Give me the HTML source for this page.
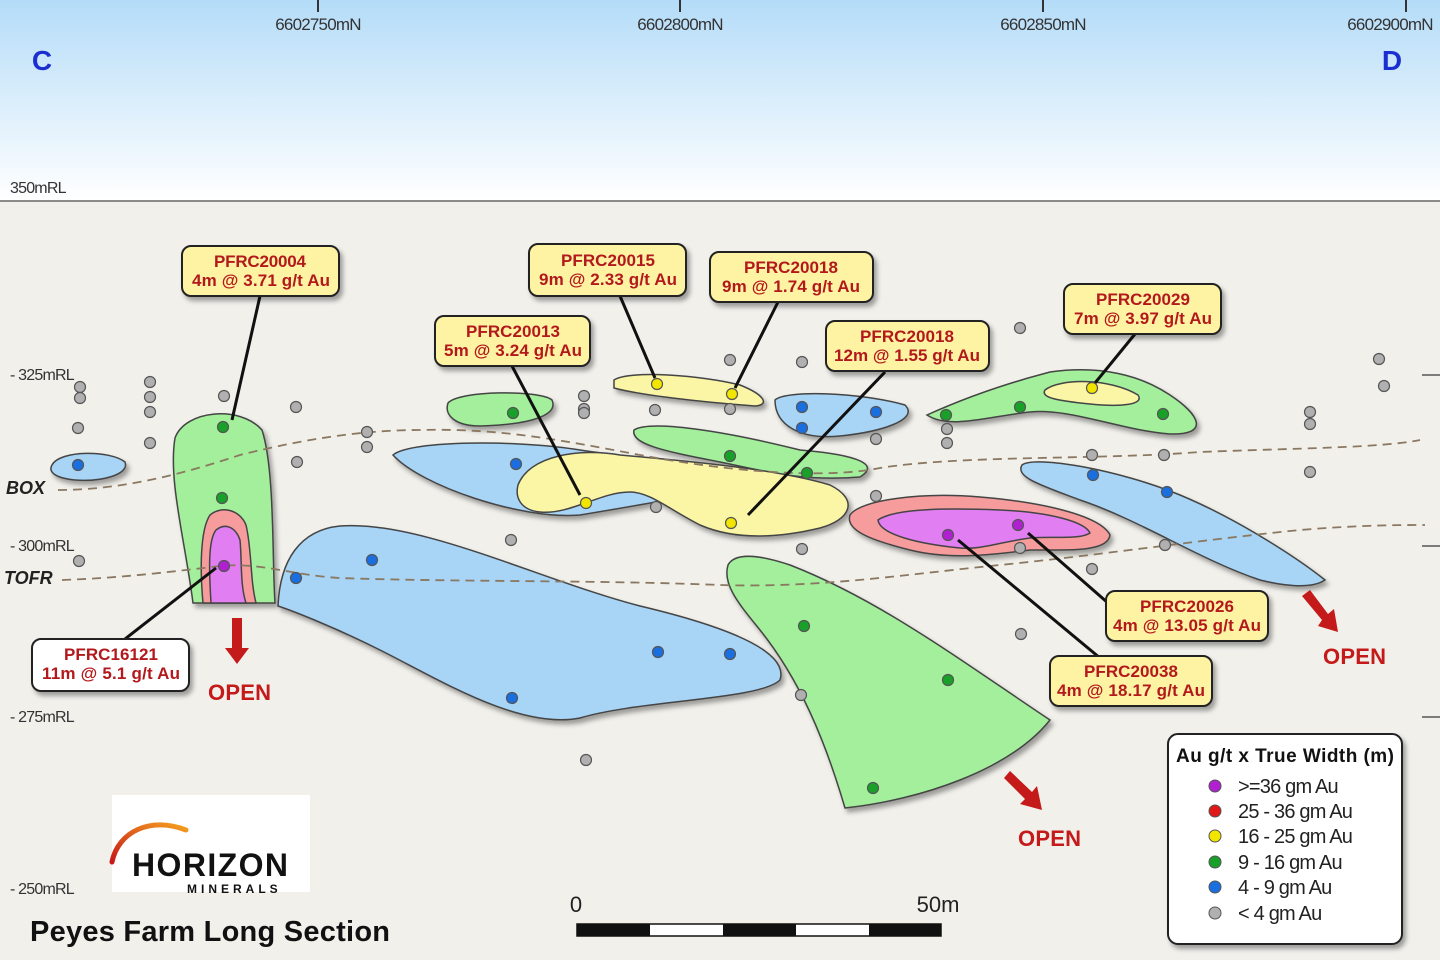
<!DOCTYPE html>
<html><head><meta charset="utf-8"><style>
html,body{margin:0;padding:0;width:1440px;height:960px;overflow:hidden;background:#f1f0eb}
svg{display:block}
text{font-family:"Liberation Sans",Arial,sans-serif}
</style></head><body>
<svg width="1440" height="960" viewBox="0 0 1440 960" xmlns="http://www.w3.org/2000/svg">
<defs>
<linearGradient id="sky" x1="0" y1="0" x2="0" y2="1">
<stop offset="0" stop-color="#b4dcf8"/><stop offset="1" stop-color="#ffffff"/>
</linearGradient>
<linearGradient id="arc" x1="0" y1="1" x2="1" y2="0">
<stop offset="0" stop-color="#c81818"/><stop offset="1" stop-color="#f4a020"/>
</linearGradient>
<filter id="sh" x="-20%" y="-20%" width="150%" height="150%"><feDropShadow dx="3" dy="4" stdDeviation="2.5" flood-color="#000" flood-opacity="0.35"/></filter>
</defs>
<rect x="0" y="0" width="1440" height="200" fill="url(#sky)"/>
<rect x="0" y="200" width="1440" height="760" fill="#f1f0eb"/>
<line x1="0" y1="201" x2="1440" y2="201" stroke="#8a8a88" stroke-width="2"/>
<!-- top ticks -->
<g stroke="#333" stroke-width="2">
<line x1="318" y1="0" x2="318" y2="12"/><line x1="680" y1="0" x2="680" y2="12"/><line x1="1043" y1="0" x2="1043" y2="12"/><line x1="1406" y1="0" x2="1406" y2="12"/>
</g>
<g font-size="17" fill="#333" text-anchor="middle" letter-spacing="-0.8">
<text x="318" y="30">6602750mN</text><text x="680" y="30">6602800mN</text><text x="1043" y="30">6602850mN</text><text x="1390" y="30">6602900mN</text>
</g>
<text x="42" y="70" font-size="28" font-weight="bold" fill="#1b2fd0" text-anchor="middle">C</text>
<text x="1392" y="70" font-size="28" font-weight="bold" fill="#1b2fd0" text-anchor="middle">D</text>
<g font-size="16" fill="#333" letter-spacing="-0.8">
<text x="10" y="193">350mRL</text>
<text x="10" y="380">- 325mRL</text>
<text x="10" y="551">- 300mRL</text>
<text x="10" y="722">- 275mRL</text>
<text x="10" y="894">- 250mRL</text>
</g>
<g stroke="#555" stroke-width="1.5"><line x1="1422" y1="375" x2="1440" y2="375"/><line x1="1422" y1="546" x2="1440" y2="546"/><line x1="1422" y1="717" x2="1440" y2="717"/></g>
<text x="6" y="494" font-size="18" font-weight="bold" font-style="italic" fill="#222">BOX</text>
<text x="4" y="584" font-size="18" font-weight="bold" font-style="italic" fill="#222">TOFR</text>

<!-- shapes -->
<g stroke="#444" stroke-width="1.5" filter="url(#sh)">
<path d="M52,465 C60,450 110,450 125,462 C130,475 100,482 75,480 C55,478 48,472 52,465Z" fill="#a8d4f6"/>
<path d="M193,603 C185,540 168,480 175,438 C185,410 240,405 262,430 C275,470 272,560 275,603Z" fill="#a3ef9c"/>
<path d="M203,603 C200,570 200,530 210,515 C222,505 240,510 246,525 C252,550 250,580 256,603Z" fill="#f79c9c"/>
<path d="M211,603 C209,570 208,540 216,530 C226,522 236,528 240,540 C242,560 240,585 246,603Z" fill="#e07ef2"/>
<path d="M278,606 C280,560 300,530 340,526 C420,520 540,580 640,606 C720,625 790,650 780,680 C760,700 640,700 580,718 C520,730 440,680 380,650 C330,625 290,610 278,606Z" fill="#a8d4f6"/>
<path d="M393,455 C410,440 520,440 580,450 C660,462 740,468 760,480 C700,495 640,505 580,515 C520,520 420,485 393,455Z" fill="#a8d4f6"/>
<path d="M448,403 C460,390 540,390 552,400 C560,418 520,425 480,426 C455,426 444,415 448,403Z" fill="#a3ef9c"/>
<path d="M614,380 C630,370 700,375 740,385 C765,395 770,405 755,406 C700,402 640,395 614,388Z" fill="#fbf5a6"/>
<path d="M775,400 C785,390 860,392 905,405 C920,420 880,432 840,436 C800,440 775,425 775,400Z" fill="#a8d4f6"/>
<path d="M634,430 C650,420 720,430 800,450 C860,455 880,465 860,477 C800,482 760,470 720,462 C670,452 630,445 634,430Z" fill="#a3ef9c"/>
<path d="M518,485 C530,455 580,448 620,455 C700,462 780,470 830,485 C860,500 850,520 820,528 C770,540 730,538 700,525 C670,510 650,492 630,492 C600,492 570,515 540,512 C520,510 515,497 518,485Z" fill="#fbf5a6"/>
<path d="M927,415 C960,400 1000,385 1050,372 C1100,365 1140,375 1170,395 C1200,415 1210,435 1170,434 C1120,430 1070,408 1030,412 C990,416 950,430 927,415Z" fill="#a3ef9c"/>
<path d="M1045,390 C1060,378 1110,378 1138,395 C1145,405 1120,407 1090,404 C1060,401 1040,398 1045,390Z" fill="#fbf5a6"/>
<path d="M1022,465 C1035,455 1120,470 1180,495 C1240,520 1300,560 1325,580 C1310,590 1280,585 1260,580 C1200,560 1140,520 1080,500 C1040,485 1015,477 1022,465Z" fill="#a8d4f6"/>
<path d="M850,515 C860,500 920,492 980,497 C1040,502 1100,515 1110,535 C1108,552 1070,550 1030,550 C990,555 950,560 910,550 C870,540 845,530 850,515Z" fill="#f79c9c"/>
<path d="M878,520 C895,508 950,508 1000,510 C1050,512 1085,522 1090,533 C1080,540 1050,536 1030,538 C1000,542 980,550 960,548 C920,544 880,535 878,520Z" fill="#e07ef2"/>
<path d="M728,565 C735,552 760,555 790,565 C880,600 960,660 1050,720 C1010,770 920,800 845,808 C825,740 800,680 760,630 C740,605 722,585 728,565Z" fill="#a3ef9c"/>
</g>

<!-- dashed contacts -->
<path d="M58,490 C120,490 180,475 240,455 C300,440 360,430 420,430 C500,428 560,440 640,455 C720,470 820,480 880,468 C960,455 1100,460 1200,452 C1300,448 1380,448 1420,440" fill="none" stroke="#8a7860" stroke-width="1.8" stroke-dasharray="9,6"/>
<path d="M62,580 C120,578 170,572 220,566 C260,562 290,575 340,578 C450,582 600,580 720,585 C820,588 900,575 1000,565 C1100,555 1200,540 1300,530 C1360,525 1400,525 1425,525" fill="none" stroke="#8a7860" stroke-width="1.8" stroke-dasharray="9,6"/>

<!-- leaders -->
<g stroke="#111" stroke-width="3" fill="none">
<line x1="260" y1="296" x2="232" y2="420"/>
<line x1="620" y1="296" x2="655" y2="378"/>
<line x1="778" y1="302" x2="735" y2="388"/>
<line x1="512" y1="366" x2="580" y2="495"/>
<line x1="885" y1="372" x2="748" y2="515"/>
<line x1="1135" y1="334" x2="1095" y2="383"/>
<line x1="125" y1="639" x2="216" y2="568"/>
<line x1="1108" y1="603" x2="1028" y2="533"/>
<line x1="1100" y1="658" x2="958" y2="540"/>
</g>

<!-- dots -->
<g stroke="#555" stroke-width="1.2">
<g fill="#b0b0b0">
<circle cx="80" cy="387" r="5.5"/><circle cx="80" cy="398" r="5.5"/><circle cx="78" cy="428" r="5.5"/>
<circle cx="150" cy="382" r="5.5"/><circle cx="150" cy="397" r="5.5"/><circle cx="150" cy="412" r="5.5"/><circle cx="150" cy="443" r="5.5"/>
<circle cx="224" cy="396" r="5.5"/><circle cx="296" cy="407" r="5.5"/><circle cx="297" cy="462" r="5.5"/>
<circle cx="367" cy="432" r="5.5"/><circle cx="367" cy="447" r="5.5"/><circle cx="79" cy="561" r="5.5"/>
<circle cx="584" cy="396" r="5.5"/><circle cx="584" cy="409" r="5.5"/><circle cx="584" cy="413" r="5.5"/>
<circle cx="655" cy="410" r="5.5"/><circle cx="730" cy="360" r="5.5"/><circle cx="730" cy="409" r="5.5"/>
<circle cx="802" cy="362" r="5.5"/><circle cx="876" cy="439" r="5.5"/><circle cx="947" cy="429" r="5.5"/><circle cx="947" cy="443" r="5.5"/>
<circle cx="1020" cy="328" r="5.5"/><circle cx="1379" cy="359" r="5.5"/><circle cx="1384" cy="386" r="5.5"/>
<circle cx="1310" cy="412" r="5.5"/><circle cx="1310" cy="424" r="5.5"/><circle cx="1310" cy="472" r="5.5"/>
<circle cx="1092" cy="455" r="5.5"/><circle cx="1164" cy="455" r="5.5"/><circle cx="876" cy="496" r="5.5"/>
<circle cx="656" cy="507" r="5.5"/><circle cx="511" cy="540" r="5.5"/><circle cx="802" cy="549" r="5.5"/>
<circle cx="1020" cy="548" r="5.5"/><circle cx="1165" cy="545" r="5.5"/><circle cx="1092" cy="569" r="5.5"/>
<circle cx="1021" cy="634" r="5.5"/><circle cx="801" cy="695" r="5.5"/><circle cx="586" cy="760" r="5.5"/>
</g>
<g fill="#1a6fe0">
<circle cx="78" cy="465" r="5.5"/><circle cx="516" cy="464" r="5.5"/><circle cx="802" cy="407" r="5.5"/><circle cx="802" cy="428" r="5.5"/><circle cx="876" cy="412" r="5.5"/>
<circle cx="1093" cy="475" r="5.5"/><circle cx="1167" cy="492" r="5.5"/><circle cx="296" cy="578" r="5.5"/><circle cx="372" cy="560" r="5.5"/>
<circle cx="658" cy="652" r="5.5"/><circle cx="730" cy="654" r="5.5"/><circle cx="512" cy="698" r="5.5"/>
</g>
<g fill="#18a028">
<circle cx="223" cy="427" r="5.5"/><circle cx="222" cy="498" r="5.5"/><circle cx="513" cy="413" r="5.5"/><circle cx="730" cy="456" r="5.5"/><circle cx="807" cy="473" r="5.5"/>
<circle cx="946" cy="415" r="5.5"/><circle cx="1020" cy="407" r="5.5"/><circle cx="1163" cy="414" r="5.5"/><circle cx="804" cy="626" r="5.5"/><circle cx="948" cy="680" r="5.5"/><circle cx="873" cy="788" r="5.5"/>
</g>
<g fill="#f2e600">
<circle cx="657" cy="384" r="5.5"/><circle cx="732" cy="394" r="5.5"/><circle cx="586" cy="503" r="5.5"/><circle cx="731" cy="523" r="5.5"/><circle cx="1092" cy="388" r="5.5"/>
</g>
<g fill="#b020d0">
<circle cx="224" cy="566" r="5.5"/><circle cx="948" cy="535" r="5.5"/><circle cx="1018" cy="525" r="5.5"/>
</g>
</g>

<!-- labels -->
<g filter="url(#sh)" stroke="#222" stroke-width="2">
<rect x="182" y="246" width="157" height="50" rx="9" fill="#fdf3a2"/>
<rect x="529" y="244" width="157" height="52" rx="9" fill="#fdf3a2"/>
<rect x="710" y="252" width="163" height="50" rx="9" fill="#fdf3a2"/>
<rect x="435" y="316" width="155" height="50" rx="9" fill="#fdf3a2"/>
<rect x="826" y="321" width="163" height="50" rx="9" fill="#fdf3a2"/>
<rect x="1064" y="284" width="157" height="50" rx="9" fill="#fdf3a2"/>
<rect x="32" y="639" width="157" height="52" rx="9" fill="#ffffff"/>
<rect x="1106" y="591" width="162" height="50" rx="9" fill="#fdf3a2"/>
<rect x="1050" y="656" width="162" height="50" rx="9" fill="#fdf3a2"/>
</g>
<g font-size="17" font-weight="bold" fill="#b3191c" text-anchor="middle">
<text x="260" y="267" textLength="92">PFRC20004</text><text x="261" y="286" textLength="138">4m @ 3.71 g/t Au</text>
<text x="608" y="266" textLength="94">PFRC20015</text><text x="608" y="285" textLength="138">9m @ 2.33 g/t Au</text>
<text x="791" y="273" textLength="94">PFRC20018</text><text x="791" y="292" textLength="138">9m @ 1.74 g/t Au</text>
<text x="513" y="337" textLength="94">PFRC20013</text><text x="513" y="356" textLength="138">5m @ 3.24 g/t Au</text>
<text x="907" y="342" textLength="94">PFRC20018</text><text x="907" y="361" textLength="146">12m @ 1.55 g/t Au</text>
<text x="1143" y="305" textLength="94">PFRC20029</text><text x="1143" y="324" textLength="138">7m @ 3.97 g/t Au</text>
<text x="111" y="660" textLength="94">PFRC16121</text><text x="111" y="679" textLength="138">11m @ 5.1 g/t Au</text>
<text x="1187" y="612" textLength="94">PFRC20026</text><text x="1187" y="631" textLength="148">4m @ 13.05 g/t Au</text>
<text x="1131" y="677" textLength="94">PFRC20038</text><text x="1131" y="696" textLength="148">4m @ 18.17 g/t Au</text>
</g>

<!-- OPEN arrows -->
<g fill="#c41a1a">
<path d="M232,618 L242,618 L242,648 L249,648 L237,664 L225,648 L232,648Z"/>
<path d="M1302,596 L1310,590 L1328,614 L1334,609 L1338,632 L1318,626 L1322,620Z"/>
<path d="M1004,778 L1010,771 L1032,792 L1037,786 L1042,810 L1020,804 L1025,799Z"/>
</g>
<g font-size="22" font-weight="bold" fill="#c41a1a">
<text x="208" y="700" textLength="63">OPEN</text>
<text x="1323" y="664" textLength="63">OPEN</text>
<text x="1018" y="846" textLength="63">OPEN</text>
</g>

<!-- legend -->
<rect x="1168" y="734" width="234" height="210" rx="10" fill="#fff" stroke="#222" stroke-width="2" filter="url(#sh)"/>
<text x="1285" y="762" font-size="19" font-weight="bold" fill="#111" text-anchor="middle" textLength="218">Au g/t x True Width (m)</text>
<g stroke="#555" stroke-width="1">
<circle cx="1215" cy="786" r="6" fill="#b020d0"/><circle cx="1215" cy="811" r="6" fill="#e01818"/><circle cx="1215" cy="836" r="6" fill="#f2e600"/>
<circle cx="1215" cy="862" r="6" fill="#18a028"/><circle cx="1215" cy="887" r="6" fill="#1a6fe0"/><circle cx="1215" cy="913" r="6" fill="#b0b0b0"/>
</g>
<g font-size="20" fill="#222" letter-spacing="-0.8">
<text x="1238" y="793">&gt;=36 gm Au</text><text x="1238" y="818">25 - 36 gm Au</text><text x="1238" y="843">16 - 25 gm Au</text>
<text x="1238" y="869">9 - 16 gm Au</text><text x="1238" y="894">4 - 9 gm Au</text><text x="1238" y="920">&lt; 4 gm Au</text>
</g>

<!-- scale bar -->
<text x="576" y="912" font-size="22" fill="#222" text-anchor="middle">0</text>
<text x="938" y="912" font-size="22" fill="#222" text-anchor="middle">50m</text>
<rect x="577" y="924" width="364" height="12" fill="#fff" stroke="#111" stroke-width="1.5"/>
<rect x="577" y="924" width="73" height="12" fill="#111"/><rect x="723" y="924" width="73" height="12" fill="#111"/><rect x="869" y="924" width="72" height="12" fill="#111"/>

<!-- logo -->
<rect x="112" y="795" width="198" height="97" fill="#fff"/>
<path d="M112,862 C118,832 150,816 186,830" fill="none" stroke="url(#arc)" stroke-width="5" stroke-linecap="round"/>
<text x="132" y="876" font-size="32" font-weight="bold" fill="#111" textLength="156">HORIZON</text>
<text x="187" y="893" font-size="12" font-weight="bold" fill="#111" letter-spacing="4">MINERALS</text>
<text x="30" y="941" font-size="29" font-weight="bold" fill="#111" textLength="360">Peyes Farm Long Section</text>
</svg>
</body></html>
